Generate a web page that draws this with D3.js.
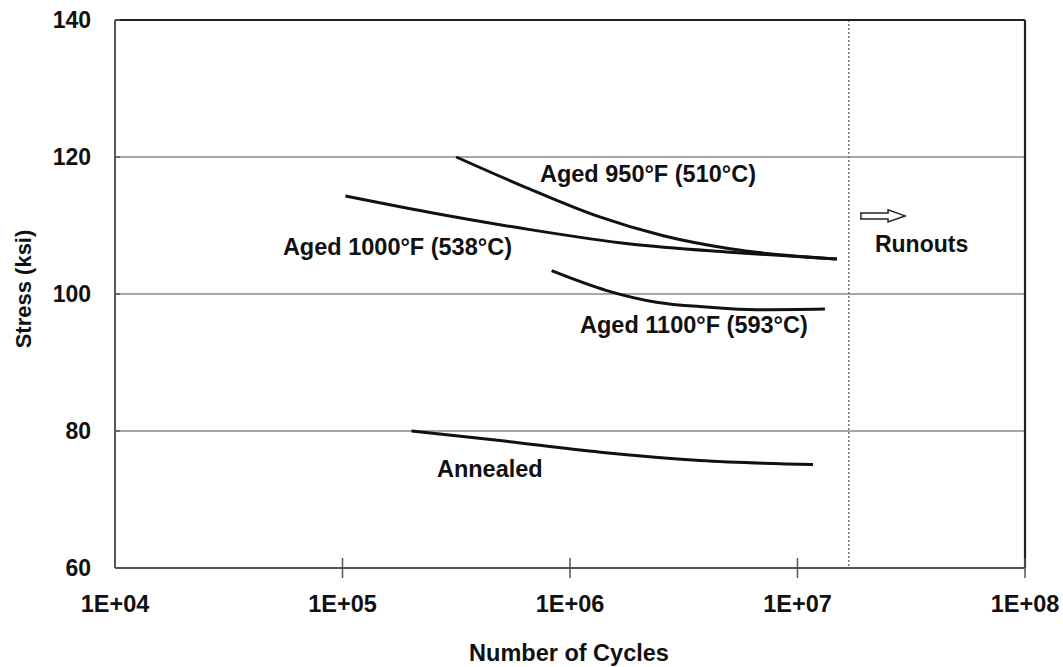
<!DOCTYPE html>
<html>
<head>
<meta charset="utf-8">
<script src="https://cdn.jsdelivr.net/npm/d3@7"></script>
<style>
  html, body { margin: 0; padding: 0; background: #fff; }
  svg { display: block; }
  text { font-family: "Liberation Sans", Arial, sans-serif; font-weight: bold; fill: #111; }
</style>
</head>
<body>
<script>
// ---- data ----
const xTicks = [1e4, 1e5, 1e6, 1e7, 1e8];
const xTickLabels = ["1E+04", "1E+05", "1E+06", "1E+07", "1E+08"];
const yTicks = [60, 80, 100, 120, 140];
const yGrid = [80, 100, 120];

const aged950Cycles = [3.16e5, 6.67e5, 1.31e6, 2.57e6, 5.05e6, 1.49e7];
const aged950Stress = [120, 115.3, 111.4, 108.5, 106.6, 105.1];

const aged1000Cycles = [1.03e5, 2.43e5, 6.67e5, 1.84e6, 5.05e6, 1.49e7];
const aged1000Stress = [114.3, 111.9, 109.4, 107.3, 106.1, 105.1];

const aged1100Cycles = [8.3e5, 1.45e6, 2.4e6, 3.98e6, 6.6e6, 1.32e7];
const aged1100Stress = [103.4, 100.5, 98.8, 98.1, 97.7, 97.8];

const annealedCycles = [2.01e5, 4.92e5, 1.36e6, 3.72e6, 1.17e7];
const annealedStress = [80.0, 78.6, 76.9, 75.7, 75.1];

const seriesNames = ["Aged 950°F (510°C)", "Aged 1000°F (538°C)", "Aged 1100°F (593°C)", "Annealed"];
const runoutLimit = 1.68e7;
const runoutLabel = "Runouts";
const xTitle = "Number of Cycles";
const yTitle = "Stress (ksi)";

// ---- layout ----
const W = 1063, H = 667;
const m = { left: 115, right: 38, top: 20, bottom: 99 };
const x = d3.scaleLog().domain([1e4, 1e8]).range([m.left, W - m.right]);
const y = d3.scaleLinear().domain([60, 140]).range([H - m.bottom, m.top]);

const svg = d3.select("body").append("svg").attr("width", W).attr("height", H);

// grid lines
svg.append("g").selectAll("line").data(yGrid).join("line")
  .attr("x1", x(1e4)).attr("x2", x(1e8))
  .attr("y1", d => y(d)).attr("y2", d => y(d))
  .attr("stroke", "#8a8a8a").attr("stroke-width", 1.6);

// runout dotted line
svg.append("line")
  .attr("x1", x(runoutLimit)).attr("x2", x(runoutLimit))
  .attr("y1", y(140)).attr("y2", y(60))
  .attr("stroke", "#777").attr("stroke-width", 1.5)
  .attr("stroke-dasharray", "2,2");

// frame
svg.append("line").attr("x1", x(1e4)).attr("x2", x(1e8)).attr("y1", y(140)).attr("y2", y(140))
  .attr("stroke", "#222").attr("stroke-width", 2.2);
svg.append("line").attr("x1", x(1e8)).attr("x2", x(1e8)).attr("y1", y(140)).attr("y2", y(60))
  .attr("stroke", "#222").attr("stroke-width", 2.2);
svg.append("line").attr("x1", x(1e4)).attr("x2", x(1e4)).attr("y1", y(140)).attr("y2", y(60))
  .attr("stroke", "#555").attr("stroke-width", 2);
svg.append("line").attr("x1", x(1e4)).attr("x2", x(1e8)).attr("y1", y(60)).attr("y2", y(60))
  .attr("stroke", "#555").attr("stroke-width", 2);

// x ticks
svg.append("g").selectAll("line").data(xTicks.slice(1)).join("line")
  .attr("x1", d => x(d)).attr("x2", d => x(d))
  .attr("y1", y(60) - 10).attr("y2", y(60) + 10)
  .attr("stroke", "#555").attr("stroke-width", 1.5);
// y ticks
svg.append("g").selectAll("line").data(yTicks).join("line")
  .attr("x1", x(1e4)).attr("x2", x(1e4) + 5)
  .attr("y1", d => y(d)).attr("y2", d => y(d))
  .attr("stroke", "#555").attr("stroke-width", 1.5);

// tick labels
svg.append("g").selectAll("text").data(xTicks).join("text")
  .attr("x", d => x(d)).attr("y", y(60) + 44)
  .attr("text-anchor", "middle").attr("font-size", 23.5)
  .text((d, i) => xTickLabels[i]);
svg.append("g").selectAll("text").data(yTicks).join("text")
  .attr("x", m.left - 24).attr("y", d => y(d)).attr("dy", "0.36em")
  .attr("text-anchor", "end").attr("font-size", 23)
  .text(d => d);

// axis titles
svg.append("text").attr("x", (x(1e4) + x(1e8)) / 2 - 1).attr("y", 661)
  .attr("text-anchor", "middle").attr("font-size", 23.5).text(xTitle);
svg.append("text").attr("transform", `translate(31,${y(100) - 5}) rotate(-90)`)
  .attr("text-anchor", "middle").attr("font-size", 22).text(yTitle);

// curves
const series = [
  [aged950Cycles, aged950Stress],
  [aged1000Cycles, aged1000Stress],
  [aged1100Cycles, aged1100Stress],
  [annealedCycles, annealedStress]
];
const line = d3.line().x(d => x(d[0])).y(d => y(d[1])).curve(d3.curveMonotoneX);
svg.append("g").selectAll("path").data(series).join("path")
  .attr("d", s => line(s[0].map((c, i) => [c, s[1][i]])))
  .attr("fill", "none").attr("stroke", "#111").attr("stroke-width", 3);

// series labels (start points in data coordinates)
const labelAt = [
  [7.38e5, 116.35],
  [5.47e4, 105.7],
  [1.107e6, 94.3],
  [2.6e5, 73.3]
];
svg.append("g").selectAll("text").data(seriesNames).join("text")
  .attr("x", (d, i) => x(labelAt[i][0])).attr("y", (d, i) => y(labelAt[i][1]))
  .attr("font-size", 23.5)
  .text(d => d);

// runouts arrow (hollow)
const ax0 = x(1.9e7), ax1 = x(2.97e7), ay = y(111.4);
const headLen = 17, shaftH = 3, headH = 6;
svg.append("path")
  .attr("d", `M${ax0},${ay - shaftH} L${ax1 - headLen},${ay - shaftH} L${ax1 - headLen},${ay - headH} L${ax1},${ay} L${ax1 - headLen},${ay + headH} L${ax1 - headLen},${ay + shaftH} L${ax0},${ay + shaftH} Z`)
  .attr("fill", "#fff").attr("stroke", "#222").attr("stroke-width", 1.5);
svg.append("text").attr("x", x(2.19e7)).attr("y", y(106.1))
  .attr("font-size", 23).text(runoutLabel);
</script>
</body>
</html>
